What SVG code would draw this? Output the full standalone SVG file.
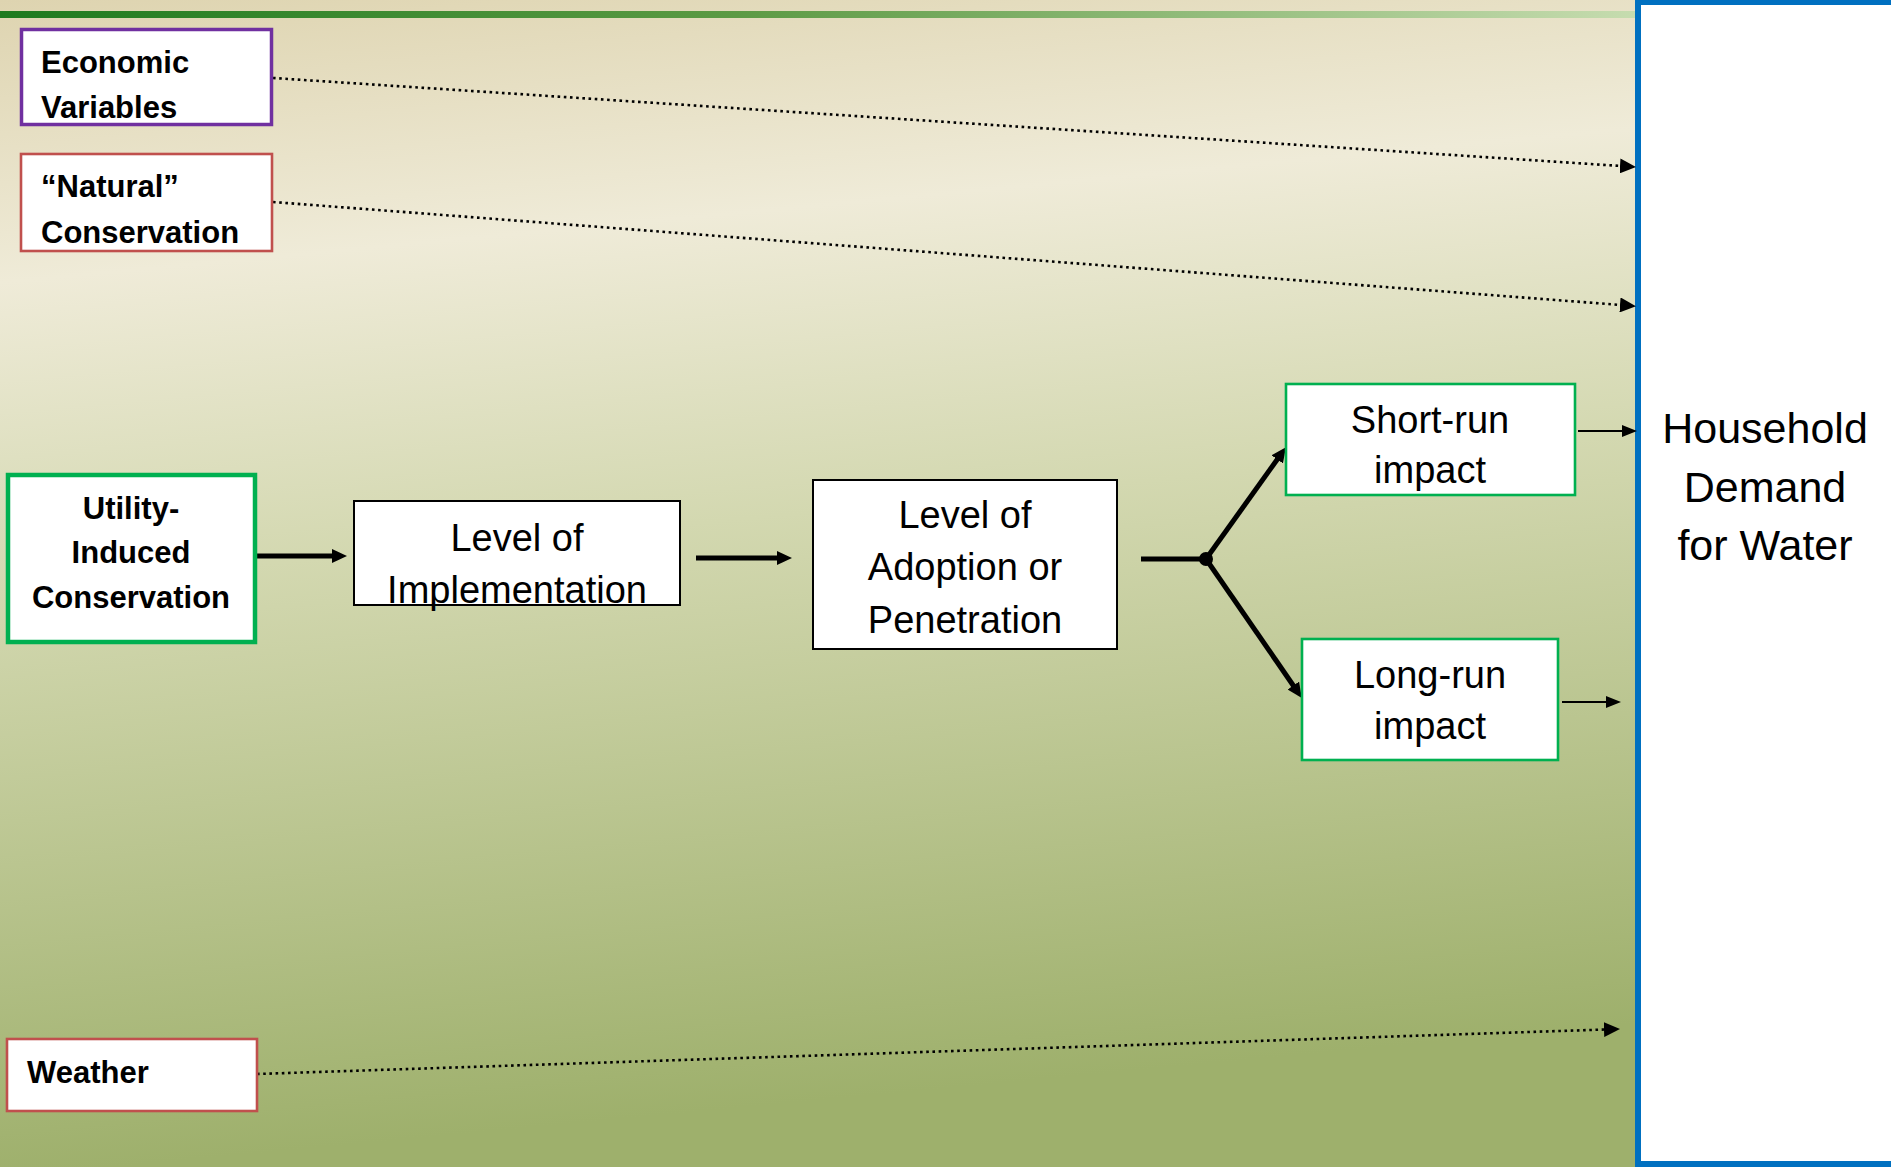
<svg xmlns="http://www.w3.org/2000/svg" width="1891" height="1167" viewBox="0 0 1891 1167">
<defs>
<linearGradient id="bg" gradientUnits="userSpaceOnUse" x1="0" y1="0" x2="110" y2="1167">
<stop offset="0" stop-color="#DED4B0"/>
<stop offset="0.24" stop-color="#EFEBD8"/>
<stop offset="0.5" stop-color="#D3D8B0"/>
<stop offset="1" stop-color="#9EB06C"/>
</linearGradient>
<linearGradient id="bar" x1="0" y1="0" x2="1" y2="0">
<stop offset="0" stop-color="#1E7A1E"/>
<stop offset="0.45" stop-color="#5C9A44"/>
<stop offset="1" stop-color="#C6DCAF"/>
</linearGradient>
<marker id="aDot" markerUnits="userSpaceOnUse" markerWidth="16" markerHeight="15" refX="1" refY="7.5" orient="auto">
<path d="M0,0 L16,7.5 L0,15 z" fill="#000"/>
</marker>
<marker id="aThick" markerUnits="userSpaceOnUse" markerWidth="15" markerHeight="14" refX="3" refY="7" orient="auto">
<path d="M0,0 L15,7 L0,14 z" fill="#000"/>
</marker>
<marker id="aThin" markerUnits="userSpaceOnUse" markerWidth="15" markerHeight="12" refX="2" refY="6" orient="auto">
<path d="M0,0 L15,6 L0,12 z" fill="#000"/>
</marker>
</defs>
<style>
.box{fill:#fff}
.b{font-family:"Liberation Sans",Arial,sans-serif;font-weight:bold;font-size:31px;fill:#000}
.r{font-family:"Liberation Sans",Arial,sans-serif;font-size:38px;fill:#000;text-anchor:middle}
.dot{fill:none;stroke:#000;stroke-width:2.6;stroke-dasharray:2.6 3.6;marker-end:url(#aDot)}
.thick{fill:none;stroke:#000;stroke-width:5;marker-end:url(#aThick)}
.thin{fill:none;stroke:#000;stroke-width:2.2;marker-end:url(#aThin)}
</style>
<rect x="0" y="0" width="1891" height="1167" fill="url(#bg)"/>
<rect x="0" y="11" width="1636" height="7" fill="url(#bar)"/>

<g id="household">
<rect x="1638" y="2" width="320" height="1162" class="box" stroke="#0070C0" stroke-width="6"/>
<text class="r" style="font-size:43px" x="1765" y="443">Household</text>
<text class="r" style="font-size:43px" x="1765" y="502">Demand</text>
<text class="r" style="font-size:43px" x="1765" y="560">for Water</text>
</g>

<g id="connectors">
<line class="dot" x1="273" y1="78" x2="1621" y2="166"/>
<line class="dot" x1="273" y1="202" x2="1621" y2="305"/>
<line class="dot" x1="257" y1="1074" x2="1605" y2="1029.5"/>
<line class="thick" x1="257" y1="556" x2="335" y2="556"/>
<line class="thick" x1="696" y1="558" x2="780" y2="558"/>
<line x1="1141" y1="559" x2="1206" y2="559" stroke="#000" stroke-width="5"/>
<line class="thick" x1="1206" y1="559" x2="1279" y2="457"/>
<line class="thick" x1="1206" y1="559" x2="1295" y2="688"/>
<circle cx="1206" cy="559" r="7" fill="#000"/>
<line class="thin" x1="1578" y1="431" x2="1624" y2="431"/>
<line class="thin" x1="1562" y1="702" x2="1608" y2="702"/>
</g>

<g id="economic">
<rect x="21.5" y="29.5" width="250" height="95" class="box" stroke="#7030A0" stroke-width="3.5"/>
<text class="b" x="41" y="73">Economic</text>
<text class="b" x="41" y="118">Variables</text>
</g>

<g id="natural">
<rect x="21" y="154" width="251" height="97" class="box" stroke="#C0504D" stroke-width="2.6"/>
<text class="b" x="41" y="197">“Natural”</text>
<text class="b" x="41" y="243">Conservation</text>
</g>

<g id="utility">
<rect x="8" y="475" width="247" height="167" class="box" stroke="#00B050" stroke-width="4.5"/>
<text class="b" x="131" y="519" text-anchor="middle">Utility-</text>
<text class="b" x="131" y="563" text-anchor="middle">Induced</text>
<text class="b" x="131" y="608" text-anchor="middle">Conservation</text>
</g>

<g id="implementation">
<rect x="354" y="501" width="326" height="104" class="box" stroke="#000" stroke-width="2"/>
<text class="r" x="517" y="551">Level of</text>
<text class="r" x="517" y="603">Implementation</text>
</g>

<g id="adoption">
<rect x="813" y="480" width="304" height="169" class="box" stroke="#000" stroke-width="2"/>
<text class="r" x="965" y="528">Level of</text>
<text class="r" x="965" y="580">Adoption or</text>
<text class="r" x="965" y="633">Penetration</text>
</g>

<g id="shortrun">
<rect x="1286" y="384" width="289" height="111" class="box" stroke="#00B050" stroke-width="2.6"/>
<text class="r" x="1430" y="433">Short-run</text>
<text class="r" x="1430" y="483">impact</text>
</g>

<g id="longrun">
<rect x="1302" y="639" width="256" height="121" class="box" stroke="#00B050" stroke-width="2.6"/>
<text class="r" x="1430" y="688">Long-run</text>
<text class="r" x="1430" y="739">impact</text>
</g>

<g id="weather">
<rect x="7" y="1039" width="250" height="72" class="box" stroke="#C0504D" stroke-width="2.6"/>
<text class="b" x="27" y="1083">Weather</text>
</g>
</svg>
